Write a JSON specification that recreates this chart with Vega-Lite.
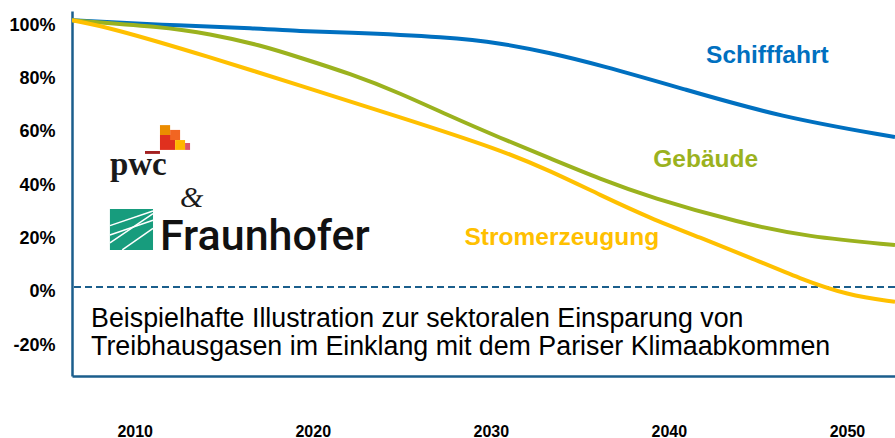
{
  "$schema": "https://vega.github.io/schema/vega-lite/v6.json",
  "width": 823,
  "height": 365,
  "autosize": "none",
  "padding": {"left": 72, "top": 11, "right": 0, "bottom": 62},
  "background": "#ffffff",
  "config": {"view": {"stroke": null}},
  "datasets": {
    "series": [
      {"sector": "Schifffahrt", "year": 2006.48, "value": 100},
      {"sector": "Schifffahrt", "year": 2011.42, "value": 98.3},
      {"sector": "Schifffahrt", "year": 2017.04, "value": 97.0},
      {"sector": "Schifffahrt", "year": 2019.29, "value": 95.9},
      {"sector": "Schifffahrt", "year": 2021.54, "value": 95.6},
      {"sector": "Schifffahrt", "year": 2027.72, "value": 93.7},
      {"sector": "Schifffahrt", "year": 2030.53, "value": 91.5},
      {"sector": "Schifffahrt", "year": 2033.34, "value": 87.8},
      {"sector": "Schifffahrt", "year": 2036.14, "value": 83.2},
      {"sector": "Schifffahrt", "year": 2040.64, "value": 74.6},
      {"sector": "Schifffahrt", "year": 2046.26, "value": 63.7},
      {"sector": "Schifffahrt", "year": 2052.7, "value": 56.2},
      {"sector": "Gebäude", "year": 2006.48, "value": 100},
      {"sector": "Gebäude", "year": 2011.42, "value": 97.6},
      {"sector": "Gebäude", "year": 2014.23, "value": 95.0},
      {"sector": "Gebäude", "year": 2017.04, "value": 90.7},
      {"sector": "Gebäude", "year": 2019.29, "value": 86.0},
      {"sector": "Gebäude", "year": 2022.1, "value": 80.0},
      {"sector": "Gebäude", "year": 2024.91, "value": 72.7},
      {"sector": "Gebäude", "year": 2027.72, "value": 64.0},
      {"sector": "Gebäude", "year": 2030.53, "value": 55.9},
      {"sector": "Gebäude", "year": 2033.34, "value": 48.2},
      {"sector": "Gebäude", "year": 2036.14, "value": 40.5},
      {"sector": "Gebäude", "year": 2038.95, "value": 33.6},
      {"sector": "Gebäude", "year": 2044.01, "value": 24.0},
      {"sector": "Gebäude", "year": 2047.77, "value": 18.8},
      {"sector": "Gebäude", "year": 2052.7, "value": 15.7},
      {"sector": "Stromerzeugung", "year": 2006.48, "value": 100},
      {"sector": "Stromerzeugung", "year": 2008.61, "value": 97.3},
      {"sector": "Stromerzeugung", "year": 2014.23, "value": 86.2},
      {"sector": "Stromerzeugung", "year": 2019.29, "value": 75.5},
      {"sector": "Stromerzeugung", "year": 2024.91, "value": 63.7},
      {"sector": "Stromerzeugung", "year": 2030.53, "value": 51.5},
      {"sector": "Stromerzeugung", "year": 2033.34, "value": 43.5},
      {"sector": "Stromerzeugung", "year": 2036.14, "value": 34.5},
      {"sector": "Stromerzeugung", "year": 2038.95, "value": 25.8},
      {"sector": "Stromerzeugung", "year": 2041.76, "value": 18.5},
      {"sector": "Stromerzeugung", "year": 2044.57, "value": 11.0},
      {"sector": "Stromerzeugung", "year": 2047.4, "value": 3.0},
      {"sector": "Stromerzeugung", "year": 2050.0, "value": -3.0},
      {"sector": "Stromerzeugung", "year": 2052.7, "value": -5.6}
    ],
    "labels": [
      {"sector": "Schifffahrt", "year": 2045.53, "value": 86.6},
      {"sector": "Gebäude", "year": 2042.07, "value": 47.6},
      {"sector": "Stromerzeugung", "year": 2033.99, "value": 18.4}
    ],
    "note": [
      {"text": "Beispielhafte Illustration zur sektoralen Einsparung von", "year": 2007.55, "value": -15.0},
      {"text": "Treibhausgasen im Einklang mit dem Pariser Klimaabkommen", "year": 2007.55, "value": -25.5}
    ],
    "pwcblocks": [
      {"c": "a", "year": 2011.42, "year2": 2011.99, "value": 60.7, "value2": 57.0},
      {"c": "b", "year": 2011.42, "year2": 2012.27, "value": 57.0, "value2": 51.4},
      {"c": "c", "year": 2011.99, "year2": 2012.55, "value": 58.9, "value2": 55.1},
      {"c": "d", "year": 2012.27, "year2": 2012.83, "value": 55.1, "value2": 51.4},
      {"c": "e", "year": 2012.83, "year2": 2013.11, "value": 54.0, "value2": 51.4},
      {"c": "f", "year": 2010.58, "year2": 2011.42, "value": 51.0, "value2": 49.9},
      {"c": "g", "year": 2008.61, "year2": 2011.03, "value": 29.2, "value2": 13.9}
    ],
    "stripes": [
      {"year": 2008.61, "value": 16.5, "year2": 2011.03, "value2": 27.5},
      {"year": 2008.61, "value": 19.5, "year2": 2011.03, "value2": 25.0},
      {"year": 2009.3, "value": 13.9, "year2": 2011.03, "value2": 22.0},
      {"year": 2008.61, "value": 23.0, "year2": 2011.03, "value2": 28.5}
    ]
  },
  "layer": [
    {
      "data": {"values": [{"zero": 0}]},
      "mark": {"type": "rule", "color": "#1b5e8c", "strokeWidth": 2, "strokeDash": [7, 4]},
      "encoding": {
        "y": {"field": "zero", "type": "quantitative", "scale": {"domain": [-33.4, 103.5], "nice": false, "zero": false},
          "axis": {"title": null, "values": [-20, 0, 20, 40, 60, 80, 100], "labelExpr": "datum.value + '%'", "labelFont": "Liberation Sans", "labelFontSize": 18, "labelFontWeight": "bold", "labelColor": "#000000", "labelPadding": 17, "labelOffset": 5, "ticks": false, "grid": false, "domainColor": "#1b5e8c", "domainWidth": 2.5}}
      }
    },
    {
      "data": {"name": "series"},
      "mark": {"type": "line", "strokeWidth": 4, "interpolate": "basis", "clip": true},
      "encoding": {
        "x": {"field": "year", "type": "quantitative", "scale": {"domain": [2006.48, 2052.7], "nice": false, "zero": false},
          "axis": {"title": null, "values": [2010, 2020, 2030, 2040, 2050], "format": "d", "labelFont": "Liberation Sans", "labelFontSize": 16, "labelFontWeight": "bold", "labelColor": "#000000", "labelPadding": 47, "ticks": false, "grid": false, "labelFlush": false, "domainColor": "#1b5e8c", "domainWidth": 2.5}},
        "y": {"field": "value", "type": "quantitative"},
        "color": {"field": "sector", "type": "nominal", "scale": {"domain": ["Schifffahrt", "Gebäude", "Stromerzeugung"], "range": ["#0070c0", "#9bb21e", "#ffc000"]}, "legend": null},
        "detail": {"field": "sector"}
      }
    },
    {
      "data": {"name": "labels"},
      "mark": {"type": "text", "font": "Liberation Sans", "fontSize": 24.5, "fontWeight": "bold", "align": "center", "baseline": "middle"},
      "encoding": {
        "x": {"field": "year", "type": "quantitative"},
        "y": {"field": "value", "type": "quantitative"},
        "text": {"field": "sector"},
        "color": {"field": "sector", "type": "nominal", "legend": null}
      }
    },
    {
      "data": {"name": "note"},
      "mark": {"type": "text", "font": "Liberation Sans", "fontSize": 26.8, "align": "left", "baseline": "alphabetic", "color": "#000000"},
      "encoding": {
        "x": {"field": "year", "type": "quantitative"},
        "y": {"field": "value", "type": "quantitative"},
        "text": {"field": "text"}
      }
    },
    {
      "data": {"name": "pwcblocks"},
      "mark": {"type": "rect"},
      "encoding": {
        "x": {"field": "year", "type": "quantitative"},
        "x2": {"field": "year2"},
        "y": {"field": "value", "type": "quantitative"},
        "y2": {"field": "value2"},
        "fill": {"field": "c", "type": "nominal", "scale": {"domain": ["a", "b", "c", "d", "e", "f", "g"], "range": ["#eb8c00", "#e0301e", "#f26522", "#ffb600", "#db536a", "#a32020", "#179c7d"]}, "legend": null}
      }
    },
    {
      "data": {"name": "stripes"},
      "mark": {"type": "rule", "color": "#ffffff", "strokeWidth": 1.5},
      "encoding": {
        "x": {"field": "year", "type": "quantitative"},
        "x2": {"field": "year2"},
        "y": {"field": "value", "type": "quantitative"},
        "y2": {"field": "value2"}
      }
    },
    {
      "data": {"values": [{"t": "pwc", "year": 2008.61, "value": 42.0}]},
      "mark": {"type": "text", "align": "left", "baseline": "alphabetic", "color": "#1a1a1a", "font": "Liberation Serif", "fontSize": 33, "fontWeight": "bold"},
      "encoding": {
        "x": {"field": "year", "type": "quantitative"},
        "y": {"field": "value", "type": "quantitative"},
        "text": {"field": "t"}
      }
    },
    {
      "data": {"values": [{"t": "&", "year": 2012.55, "value": 30.0}]},
      "mark": {"type": "text", "align": "left", "baseline": "alphabetic", "color": "#1a1a1a", "font": "Liberation Serif", "fontSize": 30, "fontStyle": "italic"},
      "encoding": {
        "x": {"field": "year", "type": "quantitative"},
        "y": {"field": "value", "type": "quantitative"},
        "text": {"field": "t"}
      }
    },
    {
      "data": {"values": [{"t": "Fraunhofer", "year": 2011.42, "value": 13.9}]},
      "mark": {"type": "text", "align": "left", "baseline": "alphabetic", "color": "#111111", "font": "Roboto", "fontSize": 43, "fontWeight": 500},
      "encoding": {
        "x": {"field": "year", "type": "quantitative"},
        "y": {"field": "value", "type": "quantitative"},
        "text": {"field": "t"}
      }
    }
  ]
}
